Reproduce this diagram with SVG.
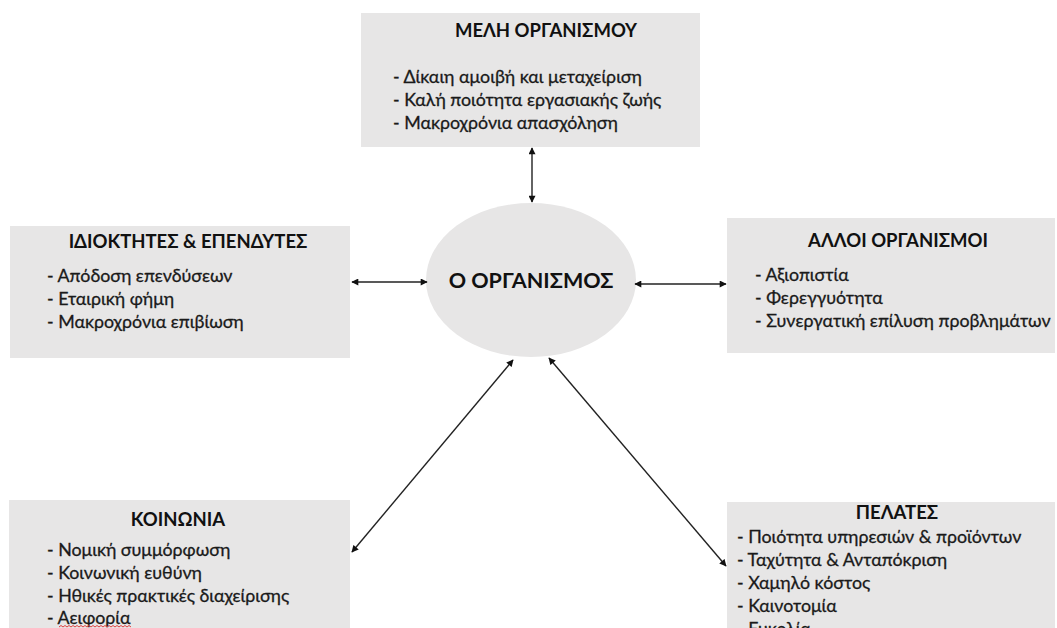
<svg xmlns="http://www.w3.org/2000/svg" width="1057" height="628" viewBox="0 0 1057 628">
  <style>
    .box { fill: #e7e6e6; }
    .title { font-family: Lato, "Liberation Sans", sans-serif; font-weight: bold; font-size: 18.5px; fill: #111; text-anchor: middle; }
    .item { font-family: Lato, "Liberation Sans", sans-serif; font-size: 17.8px; fill: #1a1a1a; stroke: #1a1a1a; stroke-width: 0.3; }
    .center { font-family: Lato, "Liberation Sans", sans-serif; font-weight: bold; font-size: 21.5px; fill: #111; text-anchor: middle; }
    .link { stroke: #222; stroke-width: 1.4; fill: none; marker-start: url(#head); marker-end: url(#head); }
  </style>
  <defs>
    <marker id="head" viewBox="0 0 10 10" refX="9" refY="5" markerWidth="8" markerHeight="7" orient="auto-start-reverse" markerUnits="userSpaceOnUse">
      <path d="M0,0 L10,5 L0,10 z" fill="#111"/>
    </marker>
  </defs>
  <rect width="1057" height="628" fill="#ffffff"/>

  <!-- staff -->
  <g id="node-members">
    <rect class="box" x="361" y="13" width="339" height="134"/>
    <text class="title" x="546" y="37">ΜΕΛΗ ΟΡΓΑΝΙΣΜΟΥ</text>
    <text class="item" x="393" y="83">- Δίκαιη αμοιβή και μεταχείριση</text>
    <text class="item" x="393" y="106">- Καλή ποιότητα εργασιακής ζωής</text>
    <text class="item" x="393" y="129">- Μακροχρόνια απασχόληση</text>
  </g>

  <!-- owners and investors -->
  <g id="node-owners">
    <rect class="box" x="10" y="226" width="340" height="132"/>
    <text class="title" x="188" y="248">ΙΔΙΟΚΤΗΤΕΣ &amp; ΕΠΕΝΔΥΤΕΣ</text>
    <text class="item" x="47" y="282">- Απόδοση επενδύσεων</text>
    <text class="item" x="47" y="305">- Εταιρική φήμη</text>
    <text class="item" x="47" y="328">- Μακροχρόνια επιβίωση</text>
  </g>

  <!-- other organisations -->
  <g id="node-others">
    <rect class="box" x="727" y="218" width="328" height="135"/>
    <text class="title" x="898" y="247">ΑΛΛΟΙ ΟΡΓΑΝΙΣΜΟΙ</text>
    <text class="item" x="755" y="281">- Αξιοπιστία</text>
    <text class="item" x="755" y="304">- Φερεγγυότητα</text>
    <text class="item" x="755" y="327">- Συνεργατική επίλυση προβλημάτων</text>
  </g>

  <!-- society -->
  <g id="node-society">
    <rect class="box" x="9" y="500" width="341" height="140"/>
    <text class="title" x="178" y="526">ΚΟΙΝΩΝΙΑ</text>
    <text class="item" x="47" y="556">- Νομική συμμόρφωση</text>
    <text class="item" x="47" y="579">- Κοινωνική ευθύνη</text>
    <text class="item" x="47" y="602">- Ηθικές πρακτικές διαχείρισης</text>
    <text class="item" x="47" y="624">- Αειφορία</text>
    <!-- spell-check squiggle -->
    <path d="M59,627 l2,-1.5 l2,1.5 l2,-1.5 l2,1.5 l2,-1.5 l2,1.5 l2,-1.5 l2,1.5 l2,-1.5 l2,1.5 l2,-1.5 l2,1.5 l2,-1.5 l2,1.5 l2,-1.5 l2,1.5 l2,-1.5 l2,1.5 l2,-1.5 l2,1.5 l2,-1.5 l2,1.5 l2,-1.5 l2,1.5 l2,-1.5 l2,1.5 l2,-1.5 l2,1.5 l2,-1.5 l2,1.5 l2,-1.5 l2,1.5 l2,-1.5 l2,1.5 l2,-1.5 l2,1.5" stroke="#e04040" stroke-width="1" fill="none"/>
  </g>

  <!-- customers -->
  <g id="node-customers">
    <rect class="box" x="727" y="502" width="328" height="140"/>
    <text class="title" x="897" y="519">ΠΕΛΑΤΕΣ</text>
    <text class="item" x="737" y="543">- Ποιότητα υπηρεσιών &amp; προϊόντων</text>
    <text class="item" x="737" y="566">- Ταχύτητα &amp; Ανταπόκριση</text>
    <text class="item" x="737" y="589">- Χαμηλό κόστος</text>
    <text class="item" x="737" y="612">- Καινοτομία</text>
    <text class="item" x="737" y="635">- Ευκολία</text>
  </g>

  <!-- the organisation itself -->
  <g id="node-organisation">
    <ellipse class="box" cx="531" cy="280" rx="105" ry="77"/>
    <text class="center" x="531" y="288">Ο ΟΡΓΑΝΙΣΜΟΣ</text>
  </g>

  <g id="connectors">
    <line class="link" x1="532" y1="148" x2="532" y2="202"/>
    <line class="link" x1="352" y1="282" x2="427" y2="282"/>
    <line class="link" x1="635" y1="284" x2="726" y2="284"/>
    <line class="link" x1="513" y1="360" x2="352" y2="552"/>
    <line class="link" x1="549" y1="358" x2="726" y2="566"/>
  </g>
</svg>
